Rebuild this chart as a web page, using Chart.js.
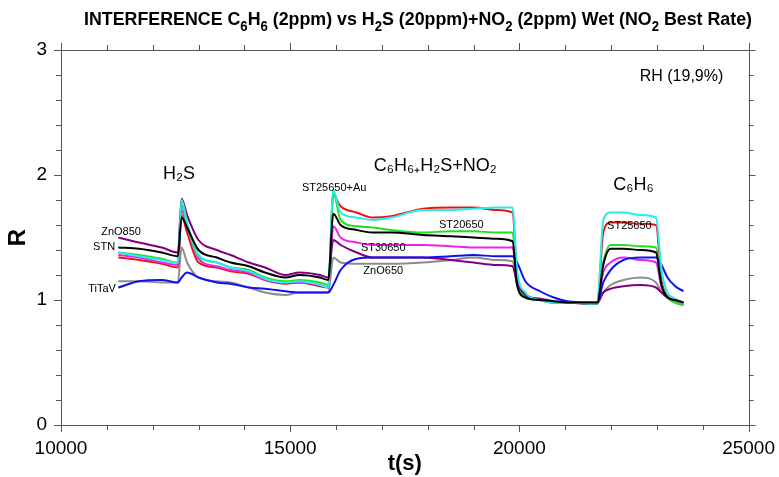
<!DOCTYPE html>
<html>
<head>
<meta charset="utf-8">
<script src="https://cdn.jsdelivr.net/npm/chart.js@4.4.0/dist/chart.umd.min.js"></script>
<style>
  html, body { margin: 0; background: #fff; }
  #wrap { width: 779px; height: 477px; }
</style>
</head>
<body>
<div id="wrap"><canvas id="c"></canvas></div>
<script>
// time base (s), shared by all sensors
const times = [11250, 11700, 12200, 12550, 12630, 12750, 13000, 13400, 13700, 14100,
  14450, 14900, 15200, 15650, 15830, 15940, 16100, 16450, 16800, 17200,
  17900, 18500, 19000, 19500, 19850, 19950, 20130, 20450, 20750, 21050,
  21550, 21700, 21830, 21990, 22270, 22640, 22980, 23100, 23230, 23400, 23580];

// R values
const stn = [1.42, 1.41, 1.38, 1.35, 1.66, 1.58, 1.40, 1.34, 1.30, 1.27,
  1.22, 1.18, 1.20, 1.18, 1.16, 1.69, 1.60, 1.56, 1.54, 1.54,
  1.52, 1.51, 1.50, 1.49, 1.47, 1.12, 1.02, 1.00, 0.99, 0.98,
  0.98, 0.98, 1.28, 1.41, 1.41, 1.40, 1.38, 1.12, 1.02, 1.00, 0.98];
const st25650Au = [1.38, 1.35, 1.32, 1.30, 1.80, 1.62, 1.36, 1.30, 1.26, 1.23,
  1.17, 1.14, 1.15, 1.12, 1.10, 1.88, 1.70, 1.66, 1.64, 1.66,
  1.72, 1.72, 1.73, 1.74, 1.74, 1.24, 1.06, 1.00, 0.98, 0.98,
  0.97, 0.98, 1.64, 1.70, 1.70, 1.68, 1.66, 1.24, 1.06, 1.01, 0.98];
const titav = [1.10, 1.15, 1.16, 1.14, 1.18, 1.22, 1.18, 1.14, 1.13, 1.10,
  1.09, 1.07, 1.06, 1.06, 1.06, 1.12, 1.24, 1.33, 1.34, 1.34,
  1.34, 1.35, 1.36, 1.35, 1.35, 1.30, 1.15, 1.07, 1.02, 0.99,
  0.98, 0.98, 1.14, 1.24, 1.32, 1.34, 1.34, 1.28, 1.18, 1.11, 1.07];
const zno850 = [1.50, 1.46, 1.42, 1.38, 1.81, 1.68, 1.48, 1.40, 1.36, 1.30,
  1.26, 1.20, 1.22, 1.20, 1.18, 1.48, 1.44, 1.38, 1.34, 1.34,
  1.34, 1.32, 1.30, 1.28, 1.27, 1.14, 1.04, 1.01, 0.99, 0.98,
  0.97, 0.98, 1.06, 1.09, 1.11, 1.12, 1.10, 1.06, 1.02, 1.00, 0.98];
const st20650 = [1.38, 1.36, 1.33, 1.30, 1.76, 1.60, 1.35, 1.30, 1.26, 1.24,
  1.18, 1.15, 1.16, 1.14, 1.12, 1.86, 1.64, 1.59, 1.58, 1.56,
  1.54, 1.55, 1.55, 1.54, 1.54, 1.14, 1.03, 1.00, 0.98, 0.98,
  0.97, 0.97, 1.30, 1.44, 1.44, 1.43, 1.42, 1.12, 1.02, 0.98, 0.96];
const st30650 = [1.36, 1.34, 1.30, 1.28, 1.72, 1.58, 1.33, 1.27, 1.24, 1.22,
  1.16, 1.14, 1.14, 1.12, 1.10, 1.59, 1.50, 1.46, 1.44, 1.44,
  1.44, 1.43, 1.42, 1.42, 1.42, 1.14, 1.03, 1.00, 0.98, 0.98,
  0.97, 0.97, 1.22, 1.30, 1.34, 1.32, 1.30, 1.10, 1.02, 0.98, 0.96];
const st25650 = [1.34, 1.32, 1.29, 1.26, 1.68, 1.54, 1.30, 1.26, 1.23, 1.21,
  1.16, 1.13, 1.14, 1.11, 1.10, 1.84, 1.75, 1.70, 1.66, 1.67,
  1.73, 1.74, 1.74, 1.72, 1.70, 1.20, 1.05, 1.00, 0.98, 0.98,
  0.97, 0.98, 1.54, 1.62, 1.62, 1.61, 1.60, 1.16, 1.03, 1.00, 0.98];
const zno650 = [1.15, 1.15, 1.14, 1.14, 1.42, 1.30, 1.18, 1.15, 1.14, 1.10,
  1.06, 1.04, 1.06, 1.06, 1.06, 1.34, 1.30, 1.29, 1.29, 1.29,
  1.30, 1.32, 1.34, 1.32, 1.31, 1.12, 1.02, 1.00, 0.98, 0.98,
  0.97, 0.97, 1.06, 1.12, 1.16, 1.18, 1.14, 1.06, 1.02, 1.00, 0.98];

// axis ticks
const xTickLabels = [10000, 15000, 20000, 25000];
const yTickLabels = [0, 1, 2, 3];
const xMinor = [11000, 12000, 13000, 14000, 16000, 17000, 18000, 19000, 21000, 22000, 23000, 24000];
const yMinor = [0.2, 0.4, 0.6, 0.8, 1.2, 1.4, 1.6, 1.8, 2.2, 2.4, 2.6, 2.8];

// text placed in the plot (data coords)
const notes = [
  { text: 'H₂S', t: 12576, r: 2.01, size: 18 },
  { text: 'C₆H₆₊H₂S+NO₂', t: 18166, r: 2.07, size: 18 },
  { text: 'C₆H₆', t: 22490, r: 1.92, size: 18 },
  { text: 'RH (19,9%)', t: 23537, r: 2.79, size: 16 },
  { text: 'ZnO850', t: 11310, r: 1.544, size: 11 },
  { text: 'STN', t: 10940, r: 1.424, size: 11 },
  { text: 'TiTaV', t: 10895, r: 1.09, size: 11 },
  { text: 'ST25650+Au', t: 15960, r: 1.90, size: 11 },
  { text: 'ST20650', t: 18733, r: 1.60, size: 11 },
  { text: 'ST30650', t: 17030, r: 1.42, size: 11 },
  { text: 'ZnO650', t: 17030, r: 1.23, size: 11 },
  { text: 'ST25650', t: 22400, r: 1.59, size: 11 }
];

const titleRuns = [
  ['INTERFERENCE C', 0], ['6', 1], ['H', 0], ['6', 1], [' (2ppm) vs H', 0], ['2', 1],
  ['S (20ppm)+NO', 0], ['2', 1], [' (2ppm) Wet (NO', 0], ['2', 1], [' Best Rate)', 0]
];

const FONT = "'Liberation Sans', Arial, sans-serif";

function series(vals) {
  return vals.map((v, i) => ({ x: times[i], y: v }));
}

function ds(label, vals, color) {
  return {
    label: label,
    data: series(vals),
    borderColor: color,
    borderWidth: 2,
    pointRadius: 0,
    fill: false,
    cubicInterpolationMode: 'monotone'
  };
}

const decor = {
  id: 'decor',
  afterDraw(chart) {
    const ctx = chart.ctx;
    const a = chart.chartArea;
    const xs = chart.scales.x, ys = chart.scales.y;
    ctx.save();
    // frame
    ctx.strokeStyle = '#555';
    ctx.lineWidth = 1;
    ctx.strokeRect(Math.round(a.left) + 0.5, Math.round(a.top) + 0.5,
      Math.round(a.right - a.left), Math.round(a.bottom - a.top));
    // ticks, outward on all four sides
    ctx.beginPath();
    const xt = (v, len) => {
      const px = Math.round(xs.getPixelForValue(v)) + 0.5;
      ctx.moveTo(px, a.bottom); ctx.lineTo(px, a.bottom + len);
      ctx.moveTo(px, a.top); ctx.lineTo(px, a.top - len);
    };
    const yt = (v, len) => {
      const py = Math.round(ys.getPixelForValue(v)) + 0.5;
      ctx.moveTo(a.left, py); ctx.lineTo(a.left - len, py);
      ctx.moveTo(a.right, py); ctx.lineTo(a.right + len, py);
    };
    xTickLabels.forEach(v => xt(v, 7));
    xMinor.forEach(v => xt(v, 5));
    yTickLabels.forEach(v => yt(v, 7));
    yMinor.forEach(v => yt(v, 5));
    ctx.stroke();

    ctx.fillStyle = '#000';
    ctx.textAlign = 'center';
    ctx.textBaseline = 'middle';
    // axis titles
    ctx.font = 'bold 22px ' + FONT;
    ctx.fillText('t(s)', (a.left + a.right) / 2, 464);
    ctx.save();
    ctx.translate(18, (a.top + a.bottom) / 2);
    ctx.rotate(-Math.PI / 2);
    ctx.font = 'bold 24px ' + FONT;
    ctx.fillText('R', 0, 0);
    ctx.restore();

    // notes
    notes.forEach(n => {
      ctx.font = n.size + 'px ' + FONT;
      ctx.fillText(n.text, xs.getPixelForValue(n.t), ys.getPixelForValue(n.r));
    });

    // title with real subscripts, slightly condensed
    const big = 'bold 19px ' + FONT;
    const small = 'bold 14px ' + FONT;
    let w = 0;
    titleRuns.forEach(r => { ctx.font = r[1] ? small : big; w += ctx.measureText(r[0]).width; });
    ctx.save();
    ctx.translate(84, 0);
    ctx.scale(668 / w, 1);
    let x = 0;
    ctx.textAlign = 'left';
    ctx.textBaseline = 'alphabetic';
    titleRuns.forEach(r => {
      ctx.font = r[1] ? small : big;
      ctx.fillText(r[0], x, r[1] ? 31 : 25);
      x += ctx.measureText(r[0]).width;
    });
    ctx.restore();
    ctx.restore();
  }
};

new Chart(document.getElementById('c'), {
  type: 'line',
  data: {
    datasets: [
      ds('STN', stn, '#000000'),
      ds('ST25650+Au', st25650Au, '#22eeee'),
      ds('TiTaV', titav, '#1010ee'),
      ds('ZnO850', zno850, '#800080'),
      ds('ST20650', st20650, '#22dd22'),
      ds('ST30650', st30650, '#ee22ee'),
      ds('ST25650', st25650, '#ee1111'),
      ds('ZnO650', zno650, '#8c8c8c')
    ]
  },
  options: {
    responsive: true,
    maintainAspectRatio: false,
    animation: false,
    devicePixelRatio: 1,
    layout: { padding: { left: 0, top: 50, right: 30, bottom: 0 } },
    plugins: {
      legend: { display: false },
      title: { display: false },
      tooltip: { enabled: false }
    },
    scales: {
      x: {
        type: 'linear',
        min: 10000,
        max: 25000,
        grid: { display: false },
        border: { display: false },
        ticks: {
          stepSize: 5000,
          color: '#000',
          font: { size: 19, family: FONT },
          padding: 4,
          maxRotation: 0,
          callback: v => xTickLabels.includes(v) ? String(v) : ''
        },
        afterFit: s => { s.height = 52; }
      },
      y: {
        min: 0,
        max: 3,
        grid: { display: false },
        border: { display: false },
        ticks: {
          stepSize: 1,
          color: '#000',
          font: { size: 19, family: FONT },
          padding: 6,
          callback: v => yTickLabels.includes(v) ? String(v) : ''
        },
        afterFit: s => { s.width = 61; }
      }
    }
  },
  plugins: [decor]
});
</script>
</body>
</html>
